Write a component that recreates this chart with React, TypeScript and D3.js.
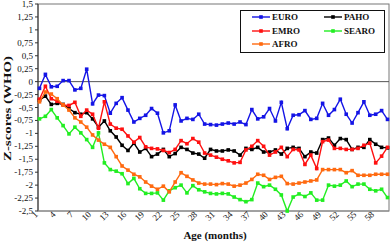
import React from "react";
import * as d3 from "d3";

const months: number[] = d3.range(1, 61);
const xTickLabels: number[] = [1, 4, 7, 10, 13, 16, 19, 22, 25, 28, 31, 34, 37, 40, 43, 46, 49, 52, 55, 58];
const yTicks: number[] = [1.5, 1.25, 1, 0.75, 0.5, 0.25, 0, -0.25, -0.5, -0.75, -1, -1.25, -1.5, -1.75, -2, -2.25, -2.5];

const euro: number[] = [
  -0.13, 0.14, -0.10, -0.09, 0.02, 0.02, -0.16, -0.13, 0.24, -0.43,
  -0.26, -0.27, -0.61, -0.42, -0.31, -0.55, -0.78, -0.71, -0.65, -0.52,
  -0.61, -0.99, -0.95, -0.45, -0.76, -0.71, -0.73, -0.63, -0.82, -0.83,
  -0.84, -0.82, -0.80, -0.82, -0.78, -0.83, -0.54, -0.72, -0.68, -0.52,
  -0.76, -0.40, -0.91, -0.65, -0.64, -0.56, -0.73, -0.71, -0.42, -0.65,
  -0.54, -0.34, -0.63, -0.80, -0.60, -0.39, -0.65, -0.63, -0.56, -0.73,
];
const paho: number[] = [
  -0.36, -0.28, -0.44, -0.42, -0.44, -0.52, -0.60, -0.63, -0.60, -0.72,
  -0.88, -0.76, -0.95, -1.07, -1.23, -1.33, -1.19, -1.36, -1.29, -1.45,
  -1.40, -1.31, -1.45, -1.39, -1.27, -1.31, -1.38, -1.40, -1.48, -1.31,
  -1.34, -1.34, -1.32, -1.34, -1.42, -1.29, -1.31, -1.27, -1.36, -1.36,
  -1.32, -1.40, -1.29, -1.27, -1.29, -1.45, -1.36, -1.38, -1.12, -1.09,
  -1.23, -1.10, -1.12, -1.31, -1.27, -1.27, -1.12, -1.21, -1.27, -1.28,
];
const emro: number[] = [
  -0.34, -0.09, -0.33, -0.38, -0.45, -0.46, -0.40, -0.67, -0.55, -0.63,
  -0.90, -0.39, -0.82, -0.90, -0.92, -1.05, -1.17, -1.08, -1.26, -1.29,
  -1.30, -1.33, -1.37, -1.31, -1.14, -1.20, -1.10, -1.17, -1.38, -1.42,
  -1.46, -1.50, -1.53, -1.57, -1.56, -1.32, -1.25, -1.14, -1.25, -1.42,
  -1.36, -1.27, -1.45, -1.31, -1.32, -1.60, -1.42, -1.68, -1.16, -1.13,
  -1.29, -1.29, -1.31, -1.31, -1.29, -1.23, -1.19, -1.57, -1.44, -1.27,
];
const searo: number[] = [
  -0.72, -0.67, -0.54, -0.70, -0.85, -1.01, -0.88, -0.99, -1.12, -1.27,
  -0.99, -1.57, -1.70, -1.73, -1.78, -1.97, -1.87, -2.07, -2.16, -2.16,
  -2.15, -2.29, -2.11, -2.05, -2.00, -2.15, -2.01, -2.09, -2.13, -2.16,
  -2.17, -2.16, -2.17, -2.23, -2.28, -2.32, -2.28, -1.96, -2.03, -2.00,
  -2.08, -2.19, -2.50, -2.23, -2.17, -2.22, -2.15, -2.29, -2.29, -2.00,
  -2.02, -2.00, -1.92, -2.03, -1.98, -1.98, -2.08, -2.11, -2.08, -2.24,
];
const afro: number[] = [
  -0.39, -0.20, -0.24, -0.33, -0.45, -0.55, -0.70, -0.78, -0.88, -1.03,
  -1.13, -1.21, -1.27, -1.45, -1.63, -1.71, -1.79, -1.84, -1.94, -2.02,
  -2.08, -2.02, -2.13, -1.94, -1.76, -1.83, -1.90, -1.96, -1.98, -1.98,
  -1.99, -1.97, -1.98, -2.02, -2.00, -1.96, -1.89, -1.79, -1.81, -1.89,
  -1.85, -1.83, -1.97, -1.98, -1.96, -1.94, -1.92, -1.90, -1.70, -1.70,
  -1.70, -1.70, -1.76, -1.72, -1.81, -1.81, -1.81, -1.79, -1.79, -1.79,
];

const seriesNames: string[] = ["EURO", "PAHO", "EMRO", "SEARO", "AFRO"];
const seriesColors: string[] = ["#1414e6", "#000000", "#ff1010", "#22ee22", "#ff6a10"];
const seriesValues: number[][] = [euro, paho, emro, searo, afro];

const W = 391;
const H = 243;
const plot = { left: 38, right: 389, top: 4, bottom: 211 };

export default function App() {
  const x = d3.scalePoint<number>().domain(months).range([39.5, 387.5]);
  const y = d3.scaleLinear().domain([-2.5, 1.5]).range([plot.bottom, plot.top]);
  const line = d3
    .line<number>()
    .x((_, i) => x(months[i]) as number)
    .y((d) => y(d));
  const fmt = (v: number) => String(v).replace(".", ",");
  const serif = "'Liberation Serif', 'Times New Roman', serif";
  const ms = 3.6;

  const legendItems = [
    { i: 0, lx: 252, ly: 17 },
    { i: 1, lx: 324, ly: 17 },
    { i: 2, lx: 252, ly: 31 },
    { i: 3, lx: 324, ly: 31 },
    { i: 4, lx: 252, ly: 44 },
  ];

  return (
    <svg
      width={W}
      height={H}
      style={{ position: "absolute", left: 0, top: 0, background: "#fff" }}
      fontFamily={serif}
    >
      <rect x={0} y={0} width={W} height={H} fill="#fff" />
      {/* plot area frame */}
      <rect
        x={plot.left}
        y={plot.top}
        width={plot.right - plot.left}
        height={plot.bottom - plot.top}
        fill="#fff"
        stroke="#777"
        strokeWidth={1}
      />
      {/* zero line */}
      <line x1={plot.left} x2={plot.right} y1={y(0)} y2={y(0)} stroke="#555" strokeWidth={1} />
      {/* y axis */}
      <line x1={plot.left} x2={plot.left} y1={plot.top} y2={plot.bottom} stroke="#333" strokeWidth={1} />
      <line x1={plot.left} x2={plot.right} y1={plot.bottom} y2={plot.bottom} stroke="#888" strokeWidth={1} />
      {yTicks.map((t) => (
        <g key={t}>
          <line x1={plot.left - 3} x2={plot.left} y1={y(t)} y2={y(t)} stroke="#333" />
          <text x={33} y={y(t) + 3} fontSize={9} textAnchor="end" fill="#111">
            {fmt(t)}
          </text>
        </g>
      ))}
      {xTickLabels.map((m) => (
        <text
          key={m}
          transform={`translate(${(x(m) as number) - 1},${plot.bottom + 4}) rotate(-45)`}
          fontSize={9}
          textAnchor="end"
          fill="#111"
        >
          {m}
        </text>
      ))}
      {/* series */}
      {seriesValues.map((vals, si) => (
        <g key={seriesNames[si]}>
          <path d={line(vals) || ""} fill="none" stroke={seriesColors[si]} strokeWidth={1.4} />
          {vals.map((v, i) => (
            <rect
              key={i}
              x={(x(months[i]) as number) - ms / 2}
              y={y(v) - ms / 2}
              width={ms}
              height={ms}
              fill={seriesColors[si]}
            />
          ))}
        </g>
      ))}
      {/* titles */}
      <text
        transform={`translate(11,108.5) rotate(-90)`}
        fontSize={11}
        fontWeight="bold"
        textAnchor="middle"
        textLength={105}
        lengthAdjust="spacingAndGlyphs"
        fill="#111"
      >
        Z-scores (WHO)
      </text>
      <text x={215} y={239} fontSize={11} fontWeight="bold" textAnchor="middle" fill="#111">
        Age (months)
      </text>
      {/* legend */}
      <rect x={240.5} y={10.5} width={144} height={42} fill="#fff" stroke="#111" strokeWidth={1} />
      {legendItems.map(({ i, lx, ly }) => (
        <g key={seriesNames[i]}>
          <line x1={lx} x2={lx + 18} y1={ly} y2={ly} stroke={seriesColors[i]} strokeWidth={1.4} />
          <rect x={lx + 9 - ms / 2} y={ly - ms / 2} width={ms} height={ms} fill={seriesColors[i]} />
          <text x={lx + 20} y={ly + 3} fontSize={9} fontWeight="bold" fill="#111">
            {seriesNames[i]}
          </text>
        </g>
      ))}
    </svg>
  );
}
